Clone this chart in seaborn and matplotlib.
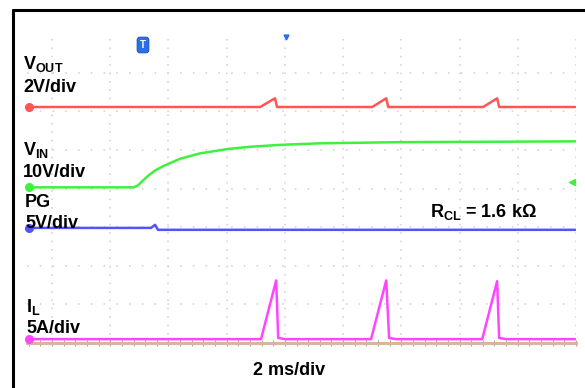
import numpy as np
import pandas as pd
import matplotlib.pyplot as plt
from matplotlib.lines import Line2D
import seaborn as sns

# scope traces, time in ms (2 ms/div)
vout_t = [-0.86, 7.15, 7.66, 7.73, 11.0, 11.48, 11.55, 14.81, 15.29, 15.36, 17.97]
vout_v = [0, 0, 0.45, 0, 0, 0.45, 0, 0, 0.45, 0, 0]

vin_t = [-0.86, 2.80, 2.95, 3.10, 3.30, 3.55, 3.85, 4.40, 5.09, 6.01, 6.80,
         7.84, 9.21, 11.96, 17.97]
vin_v = [0, 0, 0.5, 1.6, 3.0, 4.4, 5.6, 7.4, 8.8, 9.9, 10.5,
         11.0, 11.4, 11.7, 11.9]

pg_t = [-0.86, 3.40, 3.54, 3.64, 17.97]
pg_v = [0, 0, 0.4, -0.25, -0.25]

il_t = [-0.86, 7.18, 7.70, 7.77, 8.01, 10.96, 11.48, 11.58, 11.82,
        14.78, 15.29, 15.36, 15.6, 17.97]
il_a = [0, 0, 7.6, 0.15, 0, 0, 7.6, 0.15, 0, 0, 7.5, 0.15, 0, 0]

# channel: (time, value, ground level in div, units per div, colour)
channels = [
    (vout_t, vout_v, 6.11, 2, "#ff5555"),
    (vin_t, vin_v, 4.03, 10, "#3ff03f"),
    (pg_t, pg_v, 2.98, 5, "#5252ff"),
    (il_t, il_a, 0.10, 5, "#ff45ff"),
]

sns.set_theme(style="white")
plt.rcParams["font.family"] = ["Liberation Sans", "DejaVu Sans"]
plt.rcParams["mathtext.fontset"] = "custom"
plt.rcParams["mathtext.bf"] = "Liberation Sans:bold"
plt.rcParams["mathtext.rm"] = "Liberation Sans:bold"

W, H = 585, 388
fig = plt.figure(figsize=(W / 100, H / 100), dpi=100)
fig.patch.set_facecolor("white")
ax = fig.add_axes([27 / W, 1 - 343 / H, (576 - 27) / W, (343 - 34) / H])
ax.set_facecolor("white")

for t, v, off, scale, col in channels:
    df = pd.DataFrame({"t": t, "div": off + np.array(v) / scale})
    sns.lineplot(data=df, x="t", y="div", color=col, lw=1.8, ax=ax,
                 estimator=None, sort=False)
    ax.plot(df["t"].iloc[0] + 0.06, df["div"].iloc[0], "o", color=col,
            ms=5.5, clip_on=False, zorder=5)

# trigger level marker on the right, trigger position markers at top
ax.plot(17.85, 4.17, marker="<", color="#3ff03f", ms=4, clip_on=False)
ax.plot(8.04, 7.93, marker="v", color="#2a6fe8", ms=3.5, clip_on=False)

ax.set_xlim(-0.86, 18.0)
ax.set_ylim(0, 8)
ax.set_xticks(np.arange(0, 19, 2))
ax.set_xticks(np.arange(-0.8, 18.01, 0.4), minor=True)
ax.set_yticks(np.arange(0, 8, 1))
ax.set_xticklabels([])
ax.set_yticklabels([])
ax.set_xlabel("")
ax.set_ylabel("")
ax.xaxis.grid(True, color="#cfcfcf", lw=1.1, linestyle=(0, (1, 4.5)))
ax.yaxis.grid(True, color="#cfcfcf", lw=1.1, linestyle=(0, (1, 7.35)))
for s in ["top", "left", "right"]:
    ax.spines[s].set_visible(False)
ax.spines["bottom"].set_color("#d6b69c")
ax.spines["bottom"].set_linewidth(2.2)
ax.tick_params(axis="x", which="both", bottom=True, direction="inout",
               color="#b8a090", length=4, width=0.8)
ax.tick_params(axis="y", left=False)

# black frame (left and top)
fig.add_artist(Line2D([13 / W, 13 / W], [0, 1 - 10 / H], color="black", lw=2.2))
fig.add_artist(Line2D([13 / W, 1], [1 - 10 / H, 1 - 10 / H], color="black", lw=2.2))

def label(x, y, s, **kw):
    fig.text(x / W, 1 - y / H, s, fontsize=13, fontweight="bold",
             color="black", va="baseline", **kw)

label(23, 69, r"$\mathbf{V_{OUT}}$")
label(23, 92, "2V/div")
label(23, 155, r"$\mathbf{V_{IN}}$")
label(23, 177, "10V/div")
label(25, 207, "PG")
label(25, 228, "5V/div")
label(26, 312, r"$\mathbf{I_{L}}$")
label(26, 333, "5A/div")
label(483, 217, r"$\mathbf{R_{CL}}$ = 1.6 kΩ", ha="center")
label(253, 375, "2 ms/div")

# trigger icon
fig.text(143 / W, 1 - 45 / H, "T", fontsize=7, fontweight="bold",
         color="white", ha="center", va="center",
         bbox=dict(boxstyle="round,pad=0.3", fc="#2a6fe8", ec="#1a4fc0", lw=0.6))

fig.savefig("out.png", dpi=100)
